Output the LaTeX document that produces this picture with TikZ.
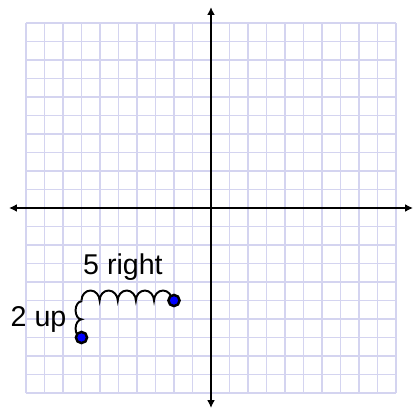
\documentclass[tikz,border=0pt]{standalone}
\usepackage{fontspec}
\setmainfont{Liberation Sans}
\usetikzlibrary{arrows.meta,decorations.pathmorphing}
\definecolor{gridlav}{HTML}{D4D4F0}
\definecolor{dotblue}{HTML}{0000FF}
\tikzset{dot/.style={circle,draw=black,fill=dotblue,line width=1.9pt,minimum size=8.6pt,inner sep=0pt},axis/.style={{Latex[length=6pt,width=6pt]}-{Latex[length=6pt,width=6pt]},line width=2.3pt},coil/.style={decorate,decoration={bumps,segment length=0.98cm,amplitude=#1},line width=1.5pt},lab/.style={font=\fontsize{22}{26}\selectfont,inner sep=0pt}}

\begin{document}
\begin{tikzpicture}[x=0.5cm,y=0.5cm]
\useasboundingbox (-11.405,-10.865) rectangle (10.919,11.243);
\draw[gridlav,line width=1.5pt,step=1] (-10,-10) grid (10,10);
\draw[axis] (-10.92,0)--(10.92,0);
\draw[axis] (0,-10.81)--(0,10.86);
\coordinate (start) at (-7,-7);
\coordinate (corner) at (-7,-5);
\coordinate (stop) at (-2,-5);
\draw[coil=0.16cm] (start)--(corner);
\draw[coil=0.27cm] (corner)--(stop);
\node[dot] (startdot) at (start) {};
\node[dot] (stopdot) at (stop) {};
\node[lab,anchor=base] (right) at (-4.76,-3.57) {5 right};
\node[lab,anchor=base east] (up) at (-7.8,-6.43) {2 up};
\end{tikzpicture}
\end{document}
